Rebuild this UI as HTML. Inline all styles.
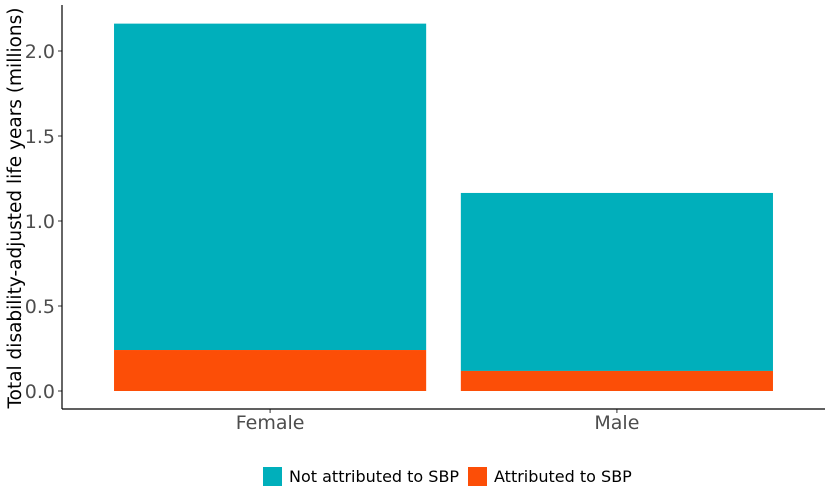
<!DOCTYPE html>
<html><head><meta charset="utf-8"><style>
body{margin:0;background:#fff;font-family:"DejaVu Sans","Liberation Sans",sans-serif}
svg text{font-family:"DejaVu Sans","Liberation Sans",sans-serif}
</style></head><body>
<svg id="chart" width="833" height="499" xmlns="http://www.w3.org/2000/svg">
<g id="plot"></g>
<text transform="translate(21,208) rotate(-90)" text-anchor="middle" font-size="18.5" fill="#000">Total disability-adjusted life years (millions)</text>
<g>
<rect x="263" y="467" width="19" height="19" fill="#00AFBB"/>
<text x="289" y="482" font-size="16" fill="#000">Not attributed to SBP</text>
<rect x="468" y="467" width="19" height="19" fill="#FC4E07"/>
<text x="494" y="482" font-size="16" fill="#000">Attributed to SBP</text>
</g>
</svg>
<script>
const categories = ["Female", "Male"];
const attributed = [0.241, 0.118];
const notAttributed = [1.92, 1.047];
const yTicks = [0.0, 0.5, 1.0, 1.5, 2.0];
const yTickLabels = ["0.0", "0.5", "1.0", "1.5", "2.0"];

const NS = "http://www.w3.org/2000/svg";
const g = document.getElementById("plot");
const pLeft = 62, pRight = 825, pTop = 5, pBottom = 409;
const y = v => 391 - v * 170;
const band = (pRight - pLeft) / 2.2;
const x = i => pLeft + band * (0.6 + i);
function mk(tag, attrs){const e=document.createElementNS(NS,tag);for(const k in attrs)e.setAttribute(k,attrs[k]);g.appendChild(e);return e;}

categories.forEach((c, i) => {
  const w = band * 0.9, x0 = x(i) - w / 2;
  const a = attributed[i], n = notAttributed[i];
  const r1 = mk("rect", {x: x0, y: y(a + n), width: w, height: y(a) - y(a + n), fill: "#00AFBB"});
  
  
  const r2 = mk("rect", {x: x0, y: y(a), width: w, height: y(0) - y(a), fill: "#FC4E07"});
  
  
  const t = mk("text", {x: x(i), y: 429, "text-anchor": "middle", "font-size": "19", fill: "#4d4d4d"});
  t.textContent = c;
  
  
  const tk = mk("line", {x1: x(i), x2: x(i), y1: pBottom, y2: pBottom + 4, stroke: "#333"});
  
  
});
yTicks.forEach((v, i) => {
  const t = mk("text", {x: 55, y: y(v) + 7, "text-anchor": "end", "font-size": "19", fill: "#4d4d4d"});
  t.textContent = yTickLabels[i];
  
  
  const tk = mk("line", {x1: pLeft - 4, x2: pLeft, y1: y(v), y2: y(v), stroke: "#333"});
  
  
});
const ya = mk("line", {x1: pLeft, x2: pLeft, y1: pTop, y2: pBottom, stroke: "#000", "stroke-width": 1.2});


const xa = mk("line", {x1: pLeft, x2: pRight, y1: pBottom, y2: pBottom, stroke: "#000", "stroke-width": 1.2});


</script>
</body></html>
